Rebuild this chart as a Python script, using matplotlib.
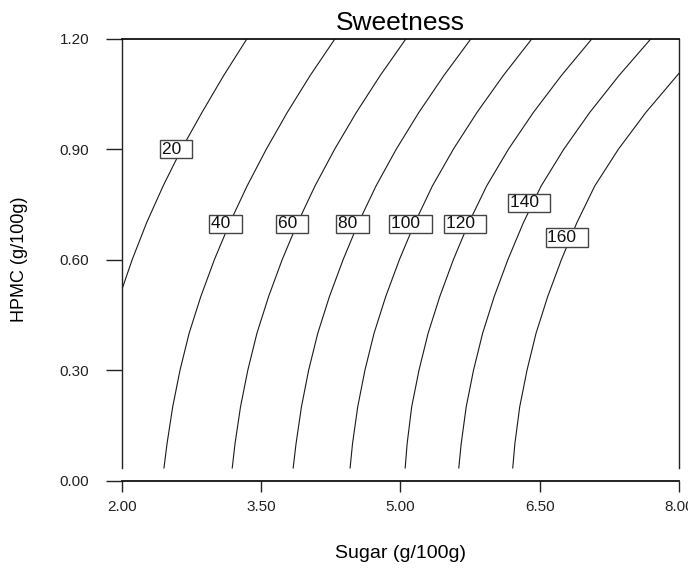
import numpy as np
import matplotlib
matplotlib.use("Agg")
import matplotlib.pyplot as plt

plt.rcParams['font.family'] = ['Liberation Sans', 'DejaVu Sans']

hpmc_grid = [1.2, 1.1, 1.0, 0.9, 0.8, 0.7, 0.6, 0.5, 0.4, 0.3, 0.2, 0.1, 0.034]

levels = [20, 40, 60, 80, 100, 120, 140, 160]

sugar_20 = [3.349, 3.098, 2.865, 2.643, 2.446, 2.268, 2.113, 2.000]
hpmc_20 = [1.2, 1.1, 1.0, 0.9, 0.8, 0.7, 0.6, 0.517]
sugar_40 = [4.297, 4.029, 3.783, 3.557, 3.350, 3.164, 2.998, 2.852, 2.726, 2.628, 2.549, 2.488, 2.455]
sugar_60 = [5.061, 4.783, 4.527, 4.293, 4.081, 3.894, 3.728, 3.582, 3.456, 3.358, 3.279, 3.220, 3.190]
sugar_80 = [5.761, 5.469, 5.200, 4.956, 4.738, 4.549, 4.384, 4.237, 4.111, 4.013, 3.935, 3.877, 3.846]
sugar_100 = [6.417, 6.108, 5.826, 5.571, 5.345, 5.156, 4.990, 4.843, 4.717, 4.619, 4.541, 4.485, 4.459]
sugar_120 = [7.063, 6.734, 6.433, 6.164, 5.929, 5.737, 5.571, 5.425, 5.299, 5.201, 5.122, 5.073, 5.052]
sugar_140 = [7.698, 7.354, 7.040, 6.760, 6.516, 6.324, 6.158, 6.011, 5.886, 5.788, 5.709, 5.655, 5.629]
sugar_160 = [8.000, 7.644, 7.348, 7.093, 6.900, 6.734, 6.587, 6.461, 6.364, 6.285, 6.233, 6.210]
hpmc_160 = [1.106, 1.0, 0.9, 0.8, 0.7, 0.6, 0.5, 0.4, 0.3, 0.2, 0.1, 0.034]

contour_x = [sugar_20, sugar_40, sugar_60, sugar_80, sugar_100, sugar_120, sugar_140, sugar_160]
contour_y = [hpmc_20, hpmc_grid, hpmc_grid, hpmc_grid, hpmc_grid, hpmc_grid, hpmc_grid, hpmc_160]

# label positions (centre of each boxed label)
label_x = [2.586, 3.117, 3.836, 4.485, 5.109, 5.695, 6.389, 6.791]
label_y = [0.900, 0.697, 0.697, 0.697, 0.697, 0.697, 0.754, 0.660]

x_ticks = [2.00, 3.50, 5.00, 6.50, 8.00]
y_ticks = [0.00, 0.30, 0.60, 0.90, 1.20]
y_lo = 0.034

fig = plt.figure(figsize=(6.88, 5.75), dpi=100)
ax = fig.add_axes([121.7/688, 1-480.5/575, (679-121.7)/688, (480.5-38.7)/575])
ax.set_xlim(2, 8)
ax.set_ylim(0, 1.2)

line_col = '#1a1a1a'
for xs, ys in zip(contour_x, contour_y):
    ax.plot(xs, ys, color=line_col, lw=0.8, solid_joinstyle='round')

for lev, lx, ly in zip(levels, label_x, label_y):
    ax.text(lx, ly, f"{lev}  ", ha='center', va='center', fontsize=12.5, color='#111',
            bbox=dict(boxstyle='square,pad=0.1', fc='white', ec='#444', lw=1.0), zorder=5)

for s in ['left', 'right']:
    ax.spines[s].set_bounds(y_lo, 1.2)
    ax.spines[s].set_linewidth(1.0)
    ax.spines[s].set_color('#222')
ax.spines['top'].set_linewidth(1.3)
ax.spines['bottom'].set_linewidth(1.3)
ax.spines['top'].set_color('#111')
ax.spines['bottom'].set_color('#111')

ax.set_xticks(x_ticks)
ax.set_xticklabels([f"{v:.2f}" for v in x_ticks])
ax.set_yticks(y_ticks)
ax.set_yticklabels([f"{v:.2f}" for v in y_ticks])
ax.tick_params(axis='y', direction='out', length=11.5, width=1.0, pad=12, labelsize=11, colors='#222')
ax.tick_params(axis='x', direction='out', length=8, width=1.0, pad=6, labelsize=11, colors='#222')

ax.set_title("Sweetness", fontsize=19, pad=6)
ax.set_xlabel("Sugar (g/100g)", fontsize=14)
ax.set_ylabel("HPMC (g/100g)", fontsize=13)
ax.xaxis.set_label_coords(0.5, -0.146)
ax.yaxis.set_label_coords(-0.168, 0.5)

fig.savefig("out.png", dpi=100)
